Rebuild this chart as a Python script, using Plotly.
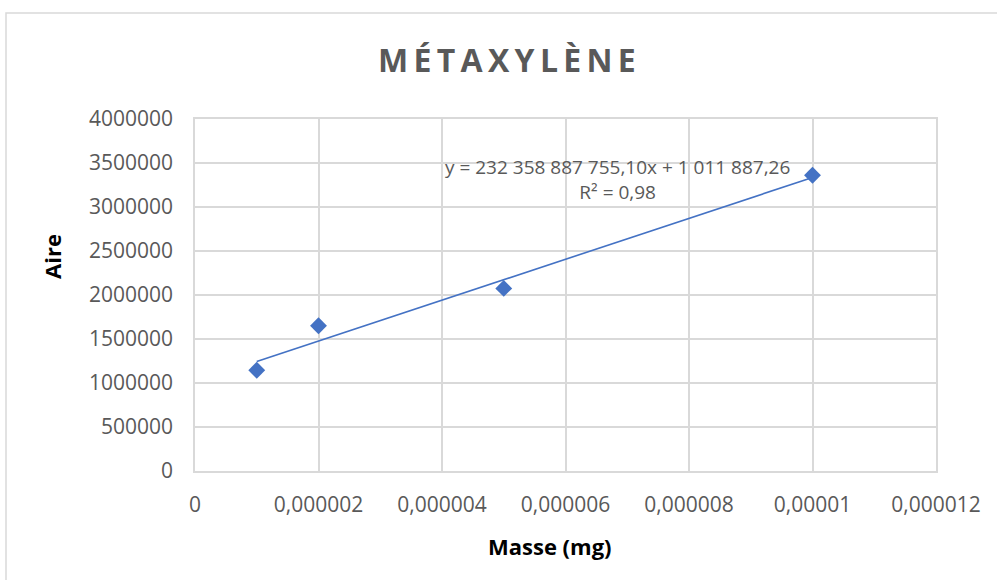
import plotly.graph_objects as go

# Calibration data: injected mass (mg) vs. peak area
masse_mg = [0.000001, 0.000002, 0.000005, 0.00001]
aire = [1145000, 1650000, 2075000, 3360000]

# Linear trendline as reported on the chart
pente = 232358887755.10
ordonnee = 1011887.26
r2 = 0.98

x_ticks = [0, 0.000002, 0.000004, 0.000006, 0.000008, 0.00001, 0.000012]
x_ticktext = ["0", "0,000002", "0,000004", "0,000006", "0,000008", "0,00001", "0,000012"]
y_ticks = [0, 500000, 1000000, 1500000, 2000000, 2500000, 3000000, 3500000, 4000000]
y_ticktext = ["0", "500000", "1000000", "1500000", "2000000", "2500000", "3000000", "3500000", "4000000"]

titre = "MÉTAXYLÈNE"
equation = "y = 232 358 887 755,10x + 1 011 887,26"
r2_text = "R² = 0,98"

W, H = 997, 580
L, R, T, B = 195, 61, 119, 109

def px_x(px):
    return (px - L) / (W - L - R)

def px_y(py):
    return (H - B - py) / (H - T - B)

blue = "#4472C4"
grey_txt = "#595959"
grid = "#d9d9d9"
font = "Open Sans"

trend_x = [min(masse_mg), max(masse_mg)]
trend_y = [pente * v + ordonnee for v in trend_x]

fig = go.Figure()
fig.add_trace(go.Scatter(
    x=trend_x, y=trend_y, mode="lines",
    line=dict(color=blue, width=1.6),
    showlegend=False, hoverinfo="skip",
))
fig.add_trace(go.Scatter(
    x=masse_mg, y=aire, mode="markers",
    marker=dict(symbol="diamond", size=13, color=blue, line=dict(width=0)),
    showlegend=False,
))

axis_common = dict(
    showgrid=True, gridcolor=grid, gridwidth=1.5,
    showline=True, linecolor=grid, linewidth=1.5, mirror=True,
    zeroline=False, ticks="",
    tickfont=dict(family=font, size=21, color=grey_txt),
    fixedrange=True,
)

fig.update_xaxes(
    range=[0, 0.000012], tickmode="array", tickvals=x_ticks, ticktext=x_ticktext,
    ticklabelstandoff=14, **axis_common,
)
fig.update_yaxes(
    range=[0, 4000000], tickmode="array", tickvals=y_ticks, ticktext=y_ticktext,
    ticklabelstandoff=16, **axis_common,
)

spaced_title = "\u2009".join(titre)

annotations = [
    dict(text="<b>" + spaced_title + "</b>", x=px_x(507), y=px_y(60),
         font=dict(family=font, size=32, color=grey_txt)),
    dict(text=equation + "<br>" + r2_text, x=px_x(617), y=px_y(179), align="center",
         font=dict(family=font, size=19, color=grey_txt)),
    dict(text="<b>Masse (mg)</b>", x=px_x(550), y=px_y(546),
         font=dict(family=font, size=22, color="#000000")),
    dict(text="<b>Aire</b>", x=px_x(52), y=px_y(257), textangle=-90,
         font=dict(family=font, size=22, color="#000000")),
]
for a in annotations:
    a.update(xref="paper", yref="paper", showarrow=False,
             xanchor="center", yanchor="middle")

fig.update_layout(
    width=W, height=H,
    margin=dict(l=L, r=R, t=T, b=B, autoexpand=False),
    paper_bgcolor="white", plot_bgcolor="white",
    annotations=annotations,
    shapes=[dict(type="rect", xref="paper", yref="paper",
                 x0=px_x(6), x1=px_x(1003), y0=px_y(590), y1=px_y(13),
                 line=dict(color=grid, width=1.5), fillcolor="rgba(0,0,0,0)",
                 layer="below")],
)

fig.write_html("out.html", config={"displayModeBar": False})
